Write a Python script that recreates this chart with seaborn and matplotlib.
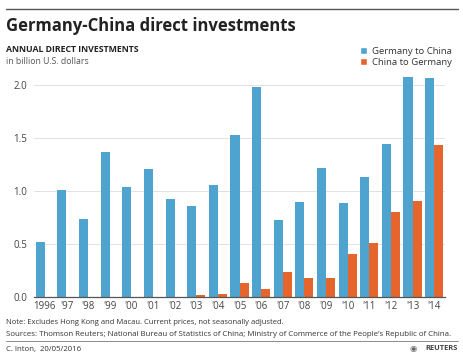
import pandas as pd
import matplotlib.pyplot as plt
import seaborn as sns
from matplotlib.patches import Patch
from matplotlib.lines import Line2D

# data (billion U.S. dollars)
years = ["1996", "'97", "'98", "'99", "'00", "'01", "'02", "'03", "'04", "'05",
         "'06", "'07", "'08", "'09", "'10", "'11", "'12", "'13", "'14"]
germany_to_china = [0.52, 1.01, 0.74, 1.37, 1.04, 1.21, 0.93, 0.86, 1.06, 1.53,
                    1.98, 0.73, 0.90, 1.22, 0.89, 1.13, 1.45, 2.08, 2.07]
china_to_germany = [0.0, 0.0, 0.0, 0.0, 0.0, 0.0, 0.0, 0.02, 0.03, 0.13,
                    0.08, 0.24, 0.18, 0.18, 0.41, 0.51, 0.80, 0.91, 1.44]
series = ["Germany to China", "China to Germany"]
yticks = [0.0, 0.5, 1.0, 1.5, 2.0]

blue = "#4fa4cf"
orange = "#e5652d"

df = pd.DataFrame({
    "year": years * 2,
    "value": germany_to_china + china_to_germany,
    "direction": [series[0]] * len(years) + [series[1]] * len(years),
})

sns.set_style("white")
plt.rcParams["font.family"] = ["Open Sans", "DejaVu Sans"]

fig = plt.figure(figsize=(4.63, 3.55), dpi=100)
ax = fig.add_axes([34 / 463, 58 / 355, 411 / 463, 227.5 / 355])

sns.barplot(data=df, x="year", y="value", hue="direction",
            palette=[blue, orange], width=0.84, ax=ax, legend=False,
            saturation=1, linewidth=0)

ax.set_ylim(0, 2.15)
ax.set_xlim(-0.5, 18.5)
ax.set_yticks(yticks)
ax.set_yticklabels([f"{v:.1f}" for v in yticks])
ax.set_xlabel("")
ax.set_ylabel("")
ax.grid(axis="y", color="#e2e2e2", linewidth=0.7)
ax.set_axisbelow(True)
for s in ["top", "right", "left"]:
    ax.spines[s].set_visible(False)
ax.spines["bottom"].set_color("#555555")
ax.spines["bottom"].set_linewidth(0.9)
ax.tick_params(axis="both", length=0, labelsize=7, colors="#444444")
ax.tick_params(axis="x", pad=3)
ax.tick_params(axis="y", pad=5)

# header
fig.add_artist(Line2D([6 / 463, 458 / 463], [1 - 9 / 355, 1 - 9 / 355],
                      color="#555555", linewidth=1))
fig.text(6 / 463, 1 - 26 / 355, "Germany-China direct investments",
         fontsize=12, fontweight="bold", color="#222222", va="center")
fig.text(6 / 463, 1 - 50 / 355, "ANNUAL DIRECT INVESTMENTS",
         fontsize=6.3, fontweight="bold", color="#222222", va="center")
fig.text(6 / 463, 1 - 62 / 355, "in billion U.S. dollars",
         fontsize=6.3, color="#555555", va="center")

handles = [Patch(facecolor=blue), Patch(facecolor=orange)]
fig.legend(handles, series, loc="upper left",
           bbox_to_anchor=(355 / 463, 1 - 42 / 355), frameon=False,
           fontsize=6.8, handlelength=0.8, handleheight=0.8,
           handletextpad=0.5, labelspacing=0.25, borderpad=0,
           labelcolor="#333333")

# footer
fig.text(6 / 463, 1 - 322 / 355,
         "Note: Excludes Hong Kong and Macau. Current prices, not seasonally adjusted.",
         fontsize=5.5, color="#333333", va="center")
fig.text(6 / 463, 1 - 334 / 355,
         "Sources: Thomson Reuters; National Bureau of Statistics of China; "
         "Ministry of Commerce of the People\u2019s Republic of China.",
         fontsize=5.7, color="#333333", va="center")
fig.add_artist(Line2D([6 / 463, 458 / 463], [1 - 341 / 355, 1 - 341 / 355],
                      color="#777777", linewidth=0.6))
fig.text(6 / 463, 1 - 349 / 355, "C. Inton,  20/05/2016",
         fontsize=5.6, color="#333333", va="center")
fig.text(458 / 463, 1 - 349 / 355, "REUTERS", fontsize=5.4,
         fontweight="bold", color="#444444", va="center", ha="right")
fig.text(417 / 463, 1 - 349 / 355, "\u25c9", fontsize=6, color="#666666",
         va="center", ha="right", family="DejaVu Sans")

fig.savefig("out.png", dpi=100)
